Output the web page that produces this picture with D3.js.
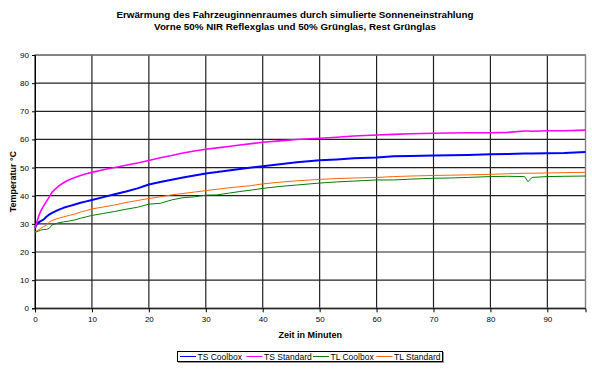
<!DOCTYPE html>
<html>
<head>
<meta charset="utf-8">
<script src="https://cdn.jsdelivr.net/npm/d3@7"></script>
<style>
  body { margin: 0; background: #fff; }
  svg { display: block; font-family: "Liberation Sans", Arial, sans-serif; }
  .tick text { font-size: 8px; fill: #000; }
</style>
</head>
<body>
<svg id="chart" width="592" height="370"></svg>
<script>
// Zeit in Minuten (shared sample times)
const minutes = [0, 0.3, 0.7, 1, 1.5, 2, 2.5, 3, 4, 5, 6, 7, 8, 9, 10, 12, 14, 16, 18, 20,
  22, 24, 26, 28, 30, 32, 34, 36, 38, 40, 43, 46, 50, 53, 56, 60, 63, 66, 70, 73,
  76, 80, 83, 86, 86.6, 87.3, 90, 93, 96.7];

const tsCoolbox = [28.5, 29.8, 30.6, 31, 31.5, 32.5, 33.3, 33.9, 34.9, 35.7, 36.3, 36.9, 37.5, 38, 38.5, 39.5, 40.5, 41.5, 42.6, 44,
  44.9, 45.7, 46.5, 47.2, 47.9, 48.4, 49, 49.5, 50, 50.5, 51.2, 51.9, 52.6, 52.9, 53.3, 53.6, 54, 54.1, 54.3, 54.4,
  54.5, 54.7, 54.8, 55, 55, 55, 55.1, 55.2, 55.5];

const tsStandard = [28.5, 30.5, 33, 34.5, 36.3, 38, 39.5, 41.3, 43.2, 44.6, 45.7, 46.5, 47.2, 47.8, 48.3, 49.2, 50, 50.8, 51.6, 52.5,
  53.5, 54.3, 55.2, 55.9, 56.5, 57, 57.5, 58, 58.5, 59, 59.5, 60, 60.4, 60.8, 61.2, 61.6, 61.8, 62, 62.2, 62.3,
  62.4, 62.4, 62.5, 63, 63, 62.9, 63.1, 63.1, 63.3];

const tlCoolbox = [27, 27.2, 27.5, 27.8, 28, 28, 28.4, 29.6, 30.3, 30.7, 31, 31.4, 32, 32.5, 33, 33.7, 34.4, 35.2, 35.9, 37,
  37.3, 38.5, 39.3, 39.6, 40.2, 40.3, 40.9, 41.5, 42, 42.6, 43.3, 43.8, 44.5, 44.9, 45.2, 45.6, 45.6, 45.9, 46.2, 46.3,
  46.5, 46.8, 46.9, 46.8, 45, 46.5, 46.8, 46.9, 47];

const tlStandard = [27, 27.5, 28, 28.4, 29, 29.6, 30.6, 31.2, 31.9, 32.5, 33, 33.5, 34.2, 34.7, 35.3, 36, 36.7, 37.6, 38.3, 39,
  39.6, 40.3, 40.8, 41.3, 41.8, 42.3, 42.8, 43.2, 43.6, 44.2, 44.8, 45.3, 45.8, 46.1, 46.3, 46.5, 46.8, 47, 47.2, 47.3,
  47.4, 47.6, 47.8, 48, 48, 48, 48.1, 48.2, 48.3];

const seriesNames = ["TS Coolbox", "TS Standard", "TL Coolbox", "TL Standard"];
const seriesValues = [tsCoolbox, tsStandard, tlCoolbox, tlStandard];
const seriesColors = ["#0000ff", "#ff00ff", "#008000", "#ff6600"];
const seriesWidths = [2, 1.6, 1, 1];
const drawOrder = [3, 2, 0, 1];

const xTicks = [0, 10, 20, 30, 40, 50, 60, 70, 80, 90];
const yTicks = [0, 10, 20, 30, 40, 50, 60, 70, 80, 90];

const titleLines = [
  "Erwärmung des Fahrzeuginnenraumes durch simulierte Sonneneinstrahlung",
  "Vorne 50% NIR Reflexglas und 50% Grünglas, Rest Grünglas"
];

const svg = d3.select("#chart");
const plot = { left: 35, right: 585.5, top: 55, bottom: 308.3 };

const x = d3.scaleLinear().domain([0, 96.7]).range([plot.left, plot.right]);
const y = d3.scaleLinear().domain([0, 90]).range([plot.bottom, plot.top]);

// ── Grid ──
svg.append("g").selectAll("line.h")
  .data(yTicks)
  .join("line")
  .attr("x1", plot.left).attr("x2", plot.right)
  .attr("y1", d => y(d)).attr("y2", d => y(d))
  .attr("stroke", "#222").attr("stroke-width", 1.2);

svg.append("g").selectAll("line.v")
  .data(xTicks)
  .join("line")
  .attr("x1", d => x(d)).attr("x2", d => x(d))
  .attr("y1", plot.top).attr("y2", plot.bottom)
  .attr("stroke", "#222").attr("stroke-width", 1.2);

// plot area border
svg.append("rect")
  .attr("x", plot.left).attr("y", plot.top)
  .attr("width", plot.right - plot.left).attr("height", plot.bottom - plot.top)
  .attr("fill", "none").attr("stroke", "#808080").attr("stroke-width", 1.4);

// ── Axes ──
const yAxis = svg.append("g")
  .attr("transform", `translate(${plot.left},0)`)
  .call(d3.axisLeft(y).tickValues(yTicks).tickSize(3).tickPadding(3));
yAxis.select(".domain").attr("stroke", "#000");

const xAxis = svg.append("g")
  .attr("transform", `translate(0,${plot.bottom})`)
  .call(d3.axisBottom(x).tickValues(xTicks).tickSize(4).tickPadding(4));
xAxis.select(".domain").attr("stroke", "#000");

// ── Lines ──
const line = d3.line()
  .x((d, i) => x(minutes[i]))
  .y(d => y(d));

svg.append("g").selectAll("path")
  .data(drawOrder)
  .join("path")
  .attr("d", i => line(seriesValues[i]))
  .attr("fill", "none")
  .attr("stroke", i => seriesColors[i])
  .attr("stroke-width", i => seriesWidths[i])
  .attr("stroke-linejoin", "round");

// ── Titles ──
svg.append("g").selectAll("text")
  .data(titleLines)
  .join("text")
  .attr("x", 295)
  .attr("y", (d, i) => 18 + i * 11.5)
  .attr("text-anchor", "middle")
  .attr("font-size", "9.8px")
  .attr("font-weight", "bold")
  .text(d => d);

svg.append("text")
  .attr("x", (plot.left + plot.right) / 2)
  .attr("y", 338)
  .attr("text-anchor", "middle")
  .attr("font-size", "9px")
  .attr("font-weight", "bold")
  .text("Zeit in Minuten");

svg.append("text")
  .attr("transform", `translate(16,${(plot.top + plot.bottom) / 2}) rotate(-90)`)
  .attr("text-anchor", "middle")
  .attr("font-size", "9px")
  .attr("font-weight", "bold")
  .text("Temperatur °C");

// ── Legend ──
const legend = svg.append("g");
legend.append("rect")
  .attr("x", 178.5).attr("y", 352.5).attr("width", 265).attr("height", 10)
  .attr("fill", "none").attr("stroke", "#999");
legend.append("rect")
  .attr("x", 177.5).attr("y", 351.5).attr("width", 265).attr("height", 10)
  .attr("fill", "#fff").attr("stroke", "#000");

const legendX = [180, 246.5, 313, 376.5];
const item = legend.selectAll("g.item")
  .data(seriesNames)
  .join("g")
  .attr("transform", (d, i) => `translate(${legendX[i]},0)`);
item.append("line")
  .attr("x1", 0).attr("x2", 16)
  .attr("y1", 356.5).attr("y2", 356.5)
  .attr("stroke", (d, i) => seriesColors[i]).attr("stroke-width", 1);
item.append("text")
  .attr("x", 17.5).attr("y", 359.5)
  .attr("font-size", "8.5px")
  .text(d => d);
</script>
</body>
</html>
